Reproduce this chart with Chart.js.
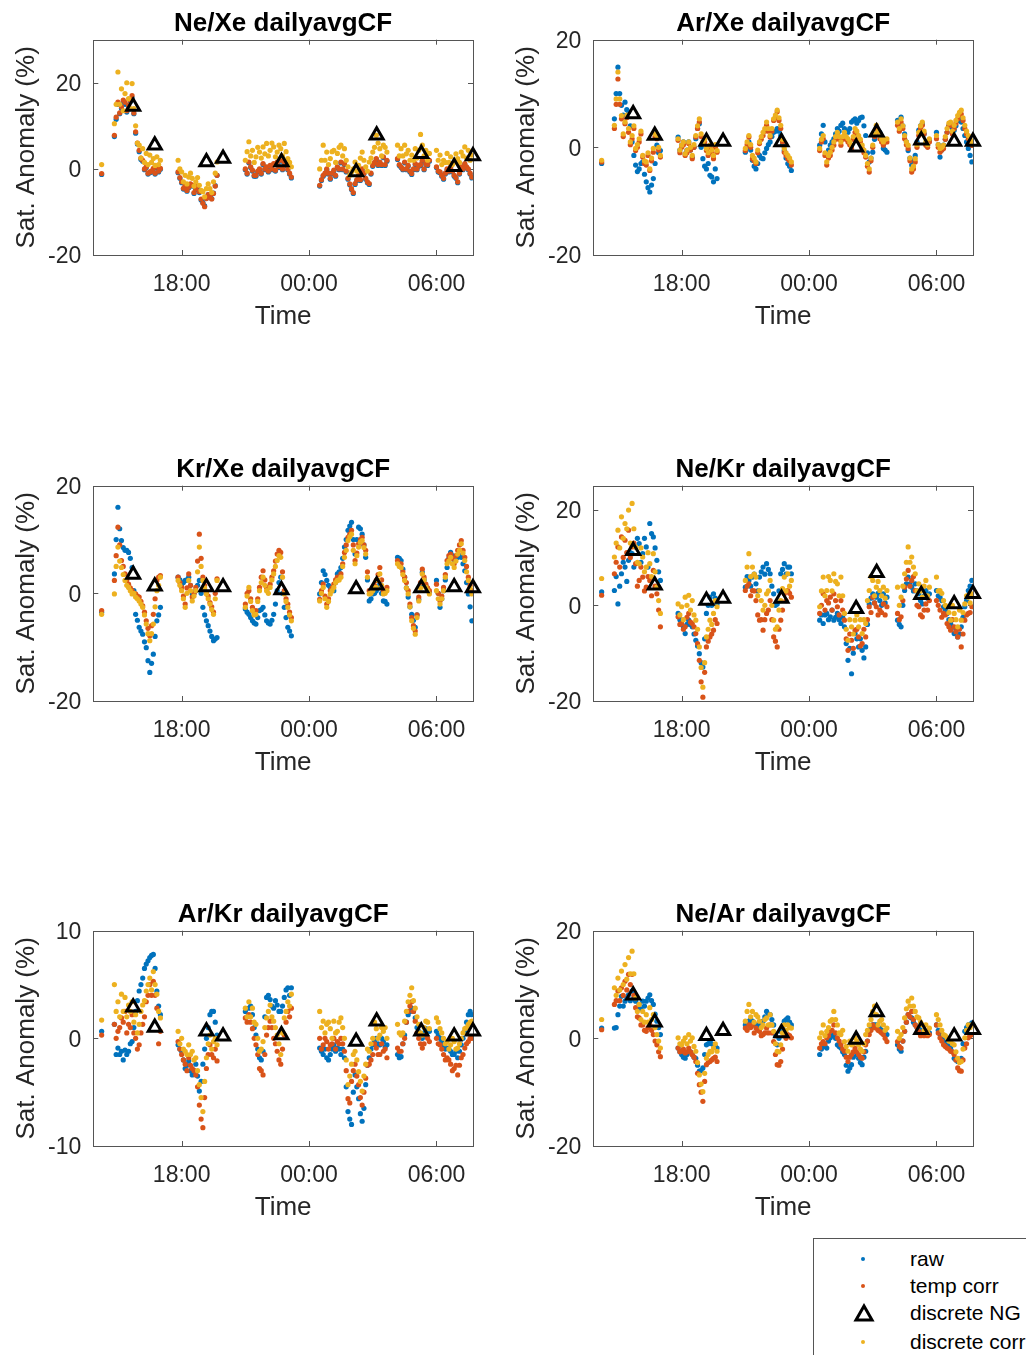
<!DOCTYPE html>
<html>
<head>
<meta charset="utf-8">
<script src="https://cdn.jsdelivr.net/npm/chart.js@4.4.0/dist/chart.umd.min.js"></script>
<style>
  body { margin: 0; background: #fff; width: 1026px; height: 1355px; overflow: hidden; position: relative;
         font-family: 'Liberation Sans', Arial, Helvetica, sans-serif; }
  canvas { position: absolute; }
  #legend { position: absolute; left: 813px; top: 1238px; width: 260px; height: 140px;
            border: 1px solid #555; background: #fff; }
  #legend .row { position: absolute; left: 0; height: 24px; width: 260px; }
  #legend .row span { position: absolute; left: 96px; top: 0; line-height: 24px; font-size: 21px; color: #000; white-space: nowrap; }
  #legend .dot { position: absolute; left: 47px; top: 10px; width: 4px; height: 4px; border-radius: 2px; }
  #legend svg { position: absolute; left: 38px; top: 2px; }
</style>
</head>
<body>
<canvas id="c0" width="500" height="340" style="left:0px;top:0px"></canvas>
<canvas id="c1" width="500" height="340" style="left:500px;top:0px"></canvas>
<canvas id="c2" width="500" height="340" style="left:0px;top:446px"></canvas>
<canvas id="c3" width="500" height="340" style="left:500px;top:446px"></canvas>
<canvas id="c4" width="500" height="340" style="left:0px;top:891px"></canvas>
<canvas id="c5" width="500" height="340" style="left:500px;top:891px"></canvas>

<div id="legend">
  <div class="row" style="top:8px"><div class="dot" style="background:#0072BD"></div><span>raw</span></div>
  <div class="row" style="top:35px"><div class="dot" style="background:#D95319"></div><span>temp corr</span></div>
  <div class="row" style="top:62px">
    <svg width="24" height="20"><polygon points="12,3 20,17 4,17" fill="none" stroke="#000" stroke-width="3"/></svg>
    <span>discrete NG</span></div>
  <div class="row" style="top:91px"><div class="dot" style="background:#EDB120"></div><span>discrete corr</span></div>
</div>

<script>
// sample times of the continuous record (morning times are the next day)
const times = ['14:14',
  '14:50','14:55','15:00','15:05','15:10','15:15','15:20','15:25','15:30','15:35','15:40','15:45','15:50','15:55',
  '16:00','16:05','16:10','16:15','16:20','16:25','16:30','16:35','16:40','16:45','16:50','16:55','17:00',
  '17:50','17:55','18:00','18:05','18:10','18:15','18:20','18:25','18:30','18:35','18:40','18:45',
  '18:50','18:55','19:00','19:05','19:10','19:15','19:20','19:25','19:30','19:35','19:40',
  '21:00','21:05','21:10','21:15','21:20','21:25','21:30','21:35','21:40','21:45','21:50','21:55','22:00','22:05',
  '22:10','22:15','22:20','22:25','22:30','22:35','22:40','22:45','22:50','22:55','23:00','23:05','23:10',
  '00:30','00:35','00:40','00:45','00:50','00:55','01:00','01:05','01:10','01:15','01:20','01:25','01:30','01:35',
  '01:40','01:45','01:50','01:55','02:00','02:05','02:10','02:15','02:20','02:25','02:30','02:35','02:40','02:45',
  '02:50','02:55','03:00','03:05','03:10','03:15','03:20','03:25','03:30','03:35','03:40',
  '04:10','04:15','04:20','04:25','04:30','04:35','04:40','04:45','04:50','04:55','05:00','05:05','05:10','05:15',
  '05:20','05:25','05:30','05:35','05:40',
  '06:00','06:05','06:10','06:15','06:20','06:25','06:30','06:35','06:40','06:45','06:50','06:55','07:00','07:05',
  '07:10','07:15','07:20','07:25','07:30','07:35','07:40'];

// discrete noble gas samples
const ngTimes = ['15:43','16:44','19:10','19:57','22:42','02:13','03:11','05:17','06:50','07:43'];

const xTickLabels = ['18:00', '00:00', '06:00'];

// Ne/Xe
const neXeRaw = [-1.3,
  7.5, 11.5, 15, 12.8, 14, 15.5, 15, 13.2, 14.5, 15.6, 16.5, 12.8, 8.3, 5.8, 4, 2.2, 1.8, -0.2, 0.3, -1.2, -0.9, -0.7, -0.1, -1.2, 0.3, -0.7, -0.1,
  -0.9, -2.2, -3.2, -4.7, -4, -5.2, -4.4, -3.7, -4, -5.7, -4.8, -4.2, -5.5, -7.2, -7.8, -8.6, -6.8, -6, -6.3, -6.9, -5.6, -3.9, -1.5,
  -0.2, -1.2, 1.4, 0.3, -0.5, -1.7, -1.7, -0.7, -0.2, -1.2, 1, -0.2, 0.3, -0.7, 0.6, -0.2, 1, -0.5, 1.4, 0.3, 1.8, -0.2, 1.4, 0.8, -0.2, -1.2, -2.1,
  -4, -2.7, -1.7, -1.2, -0.2, -1.2, -2.4, -1.2, -0.5, -1.7, 0.3, -0.2, 1.4, -0.2, 1, -0.7, -2.4, -3.7, -4.8, -5.7, -3.6, -2.7, -1.7, -2.7, -0.2, -1.2, -2.4, -3.2, -3.6, -1.2, 0.6, 1.3, 2.2, 0.8, 1.4, 0.8, 2.6, 0.8, 1.8,
  2.2, 0.8, 0.3, -0.2, 1.4, -0.2, 0.6, -0.7, -1.3, -0.2, 1, -0.2, 0.6, 0.8, 1.8, -0.2, 1, 0.8, 1.8,
  0.3, -0.7, -0.9, -1.7, -2.4, -1.2, -0.2, -0.7, 0.3, -0.7, -1.7, -2.2, -3.2, -1.2, 0.3, -0.2, 1, 0.3, -0.2, -1.2, -2.1];
const neXeTemp = [-1.1,
  7.8, 12, 15.5, 13, 14.4, 16, 15.5, 13.5, 14.8, 16, 17, 13, 8.6, 6, 4.3, 2.5, 2, 0, 0.5, -1, -0.7, -0.5, 0.1, -1, 0.5, -0.5, 0.1,
  -0.7, -2, -3, -4.5, -3.8, -5, -4.2, -3.5, -3.8, -5.5, -4.6, -4, -5.3, -7, -8, -8.8, -6.9, -6, -6.5, -7, -5.7, -4, -1.5,
  0, -1, 1.6, 0.5, -0.3, -1.5, -1.5, -0.5, 0, -1, 1.2, 0, 0.5, -0.5, 0.8, 0, 1.2, -0.3, 1.6, 0.5, 2, 0, 1.6, 1, 0, -1, -1.9,
  -3.8, -2.5, -1.5, -1, 0, -1, -2.2, -1, -0.3, -1.5, 0.5, 0, 1.6, 0, 1.2, -0.5, -2.2, -3.5, -4.6, -5.5, -3.4, -2.5, -1.5, -2.5, 0, -1, -2.2, -3, -3.4, -1, 0.8, 1.5, 2.4, 1, 1.6, 1, 2.8, 1, 2,
  2.4, 1, 0.5, 0, 1.6, 0, 0.8, -0.5, -1.1, 0, 1.2, 0, 0.8, 1, 2, 0, 1.2, 1, 2,
  0.5, -0.5, -0.7, -1.5, -2.2, -1, 0, -0.5, 0.5, -0.5, -1.5, -2, -3, -1, 0.5, 0, 1.2, 0.5, 0, -1, -1.9];
const neXeCorr = [1.0,
  10.5, 15, 22.5, 15, 18.6, 13.5, 17.5, 20, 16.3, 14, 19.8, 14, 10, 6, 5.5, 2.5, 4.7, 1.5, 3.6, 1, 3.2, 1.5, 2.4, 0.8, 2.8, 1, 2,
  2, 0, -0.7, -3, -1.5, -3.5, -1.9, -1, -2.2, -4, -3, -2, -3.8, -5, -5.3, -6.5, -4.6, -3.5, -4.6, -5.5, -3, -1, 1.6,
  2, 4, 6.3, 3, 4.3, 1.5, 2.8, 5, 3.9, 2.5, 5.1, 3.5, 5.9, 3, 4.3, 6, 5.1, 2.8, 3.9, 5.5, 4.7, 3, 5.9, 4, 2.4, 1.5, 0.5,
  0, 2, 5.5, 2, 3.9, 1, 2.4, 4, 4.3, 1.5, 3.6, 5, 5.5, 3, 4.7, 2, 0.5, -1.5, -0.7, 0, 1.6, -0.5, 0.8, 2.5, 3.9, 2, 0.5, -0.5, 1.6, 2.5, 3.9, 5, 7.8, 6, 4.7, 3, 5.5, 5, 3.9,
  5.5, 3, 4.7, 3, 5.5, 3.5, 4.3, 2, 3.2, 2, 4.7, 2.5, 4.3, 8, 5.5, 3, 4.3, 2, 3.6,
  4.3, 2, 3.2, 1, 2, 1.5, 3.6, 1.5, 2.8, 1, 1.6, 3.5, 2.4, 1.5, 3.9, 3, 5.1, 2.5, 4.3, 2, 3.2];
const neXeNG = [14.5, 5.5, 1.6, 2.4, 1.6, -0.7, 7.8, 3.5, 0.5, 3.0];

// Ar/Xe
const arXeRaw = [-3.0,
  5.3, 10, 14.9, 10, 7.8, 6, 8.4, 7, 6.6, 4, 1, -1.5, -3.3, -4.5, -4, -3, -2.7, -5, -6.4, -7.5, -8.3, -7, -5.8, -3, 0.4, -1, -0.6,
  1.9, -0.5, 0.4, 1, -1.2, -0.5, 1, -0.5, -1.8, 0, 1.6, 3.5, 4.4, 0, -2.1, -3.5, -4, -3, -5.2, -5.5, -6.4, -4, -5.8,
  -0.9, 0, 1, -0.5, -2.4, -3.5, -4, -3, -1.5, -2, -2.1, -1, -0.2, 0.5, 1, 2, 2.8, 3, 3.5, 3, 2.2, 0.5, -0.6, -2, -3, -3.5, -4.3,
  0.4, 2.5, 4.1, 1, -1.5, -0.5, 0.4, 1, 1.6, 2.5, 3.5, 3, 4.1, 4.5, 3.5, 3, 2.8, 3.5, 4.7, 5, 5.3, 4.5, 5, 5.5, 5.6, 4, 2.2, -1, -2.7, -2, -0.9, 1.5, 3.5, 3, 2.8, 1.5, -0.2, -0.5, -0.9,
  5, 4, 5.6, 4, 2.5, 1, -0.6, -2, -3.3, -2.5, -1.5, 1, 3.2, 4, 4.4, 2.5, 0.7, 0.5, 1.3,
  2.8, 0.5, -1.8, -0.5, 0.4, 1.5, 2.8, 4, 4.4, 3.5, 3.2, 4, 5, 5.5, 4.7, 3.5, 2.2, 1, -0.2, -1.5, -2.7];
const arXeTemp = [-2.7,
  3.5, 8, 12.7, 8, 5.3, 2, 4.4, 5.5, 2.8, 0.5, 1.6, 3.5, -0.6, 0, 1, 2.5, -1.8, -3, -3.3, -1.5, -4.3, -2.5, -0.9, 2, 1.6, -0.5, -1.8,
  1.3, -1, 0, 0.5, -1.5, -1, 0.7, -0.5, -2.1, 0, 1.9, 3.5, 4.7, 2, 0.7, 1, -0.6, -1.5, 0, -1, -2.1, 0, -0.9,
  -0.6, 0.5, 1.9, 0, -2.1, -2.5, -3, -1, 0.7, 1.5, 2.2, 3, 4.1, 3, 1.9, 3, 5, 5.5, 6.6, 5, 3.5, 1, -0.9, -1.5, -2.1, -2.5, -3.3,
  -0.6, 1, 1.6, -1.5, -3.3, -2, -1.5, -0.5, 0.4, 1.5, 2.2, 1.5, 0.4, 1.5, 2.2, 1.5, 1, 0.5, -0.2, 1.5, 2.8, 2.5, 1.9, 1, -0.2, -1, -1.8, -3.5, -4.6, -2.5, 0, 2, 3.5, 2.5, 1.6, 1, 0.4, 1, 1,
  4.1, 3, 4.7, 3.5, 1.6, 0.5, -0.2, -2.5, -4.6, -4, -2.7, 0, 2.2, 3.5, 4.1, 2.5, 0.4, 0, 1,
  1.6, 0, -0.9, -0.5, -0.2, 1.5, 2.8, 4, 4.1, 2.5, 3.5, 4.5, 5.3, 6, 6.2, 5, 3.5, 2.5, 1.6, 1, 0.4];
const arXeCorr = [-2.4,
  4.1, 9, 14, 9, 5.9, 2.5, 4.7, 6, 3.5, 1, 2.2, 4, -0.2, 0.5, 1.6, 3, -1.5, -2.5, -2.7, -1, -4, -2, -0.2, 2.5, 2.2, 0, -1.5,
  1.6, -0.5, 0.4, 1, -1.2, -0.5, 1, 0, -1.5, 0.5, 2.2, 4, 5.3, 2.5, 1, 1.5, -0.2, -1, 0.4, -0.5, -1.5, 0.5, -0.6,
  -0.2, 1, 2.2, 0.5, -1.5, -2, -2.7, -0.5, 1, 2, 2.8, 3.5, 4.7, 3.5, 2.2, 3.5, 5.3, 6, 6.9, 5.5, 4.1, 1.5, -0.2, -1, -1.5, -2, -2.7,
  -0.2, 1.5, 2.2, -1, -2.7, -1.5, -0.9, 0, 1, 2, 2.8, 2, 1, 2, 2.8, 2, 1.6, 1, 0.4, 2, 3.5, 3, 2.2, 1.5, 0.4, -0.5, -1.5, -3, -4, -2, 0.4, 2.5, 4.1, 3, 2.2, 1.5, 1, 1.5, 1.6,
  4.7, 3.5, 5.3, 4, 2.2, 1, 0.4, -2, -4, -3.5, -2.1, 0.5, 2.8, 4, 4.7, 3, 1, 0.5, 1.6,
  2.2, 0.5, -0.2, 0, 0.4, 2, 3.5, 4.5, 4.7, 3, 4.1, 5, 5.9, 6.5, 6.9, 5.5, 4.1, 3, 2.2, 1.5, 1];
const arXeNG = [6.2, 2.2, 1.1, 1.1, 1.0, 0.0, 2.8, 1.3, 1.1, 1.1];

// Kr/Xe
const krXeRaw = [-3.5,
  3.6, 10, 16, 12, 9.8, 8.5, 8, 8, 7.6, 6.5, 4.8, 0.5, -3.9, -5, -6.3, -7, -7.6, -9, -10.1, -12.5, -14.7, -13, -11.3, -8, -5.1, -4, -2.6,
  3, 2.5, 1.7, 2, 2.4, 2.5, 3, 1.5, -0.1, 0, 0.5, 1.5, 2.4, 0, -2.6, -4, -5.1, -6, -7, -8, -8.8, -8.5, -8.2,
  -2.9, -3.5, -3.9, -4.5, -5.1, -5.5, -5.7, -4.5, -3.2, -3, -2.6, -4, -5.1, -5.5, -5.7, -5, -3.9, -2, 0.5, 2, 3, 0, -2.6, -4.5, -6.3, -7, -7.9,
  -0.1, 2, 4.2, 3.5, 2.4, 1.5, 1.1, 1, 0.5, 2, 3.6, 4, 4.8, 6.5, 8.6, 10, 11.7, 12.5, 13.2, 10, 7.3, 10, 12.3, 12, 11, 9, 6.7, 2.5, -1.4, -1, -0.1, 0, 0.5, 1, 1.7, 0, -1.4, -1.5, -2,
  6.7, 6.5, 6.1, 4.5, 3, 1, -0.7, -2.5, -3.9, -5, -6.3, -4, -1.1, 1.5, 3.9, 2.5, 1.4, 0.8, 0.2,
  2.4, 0, -2.6, -1, 0.5, 2.5, 4.8, 6.5, 7.6, 7, 6.1, 6.5, 6.7, 7, 6.7, 5.5, 4.2, 2, -0.1, -2.5, -5.1];
const krXeTemp = [-3.2,
  2.4, 7, 12.3, 9, 6.1, 5, 3.6, 2.5, 1.7, 1, 0.5, 0, -0.1, -0.5, -0.7, -1.5, -2.3, -3.5, -5.1, -6.5, -7.9, -6, -3.9, -1, 2.4, 3, 3.3,
  3, 2, 1.1, -0.5, -2, 1, 3.6, 1.5, -0.7, 0, 1.1, 6, 11, 6.5, 3, 1.5, 0.2, -0.5, -1.7, -2.5, -3.5, 0, 2.7,
  -2, 0, 0.5, -1, -2.6, -3.5, -3.2, -1, 1.1, 3, 4.2, 2.5, 1.1, 1, 1.7, 3, 4.2, 6, 7.3, 8, 7.6, 4, 0.5, -1, -2, -3.5, -4.5,
  -1.1, 0.5, 1.7, -0.5, -2, -1, 0.5, 1, 1.7, 2.5, 3, 3, 3.6, 5.5, 7.6, 9, 10.4, 11, 11.7, 9, 6.1, 7.5, 9.2, 10, 10.4, 9, 8, 4, 0.5, 0.5, 1.1, 1.5, 2.4, 3.5, 4.8, 2.5, 0.5, 0.5, 1.1,
  6.1, 5.5, 5.5, 4, 3, 2, 0.5, -2, -4.5, -6, -7, -4, -0.7, 2, 4.5, 3, 1.7, 1, 0.5,
  1.7, 0, -1.4, -0.5, 1.1, 3.5, 6.1, 7, 7.3, 6.5, 5.5, 7, 8, 9, 9.8, 8, 6.7, 5, 3, 1.5, 0.5];
const krXeCorr = [-3.9,
  -0.1, 5, 8.6, 6, 4.8, 3.5, 2.4, 1.5, 1.1, 0.5, -0.1, 0, -0.7, -1, -1.4, -2, -2.6, -4, -5.7, -7.5, -8.8, -7.5, -5.7, -2.5, 0.5, 1.5, 3,
  2.4, 1.5, 0.5, -1, -2.6, 0, 2.4, 0.5, -1.4, -0.5, 0.5, 4, 8.6, 5, 2.4, 1, -0.1, -1, -2, -3, -3.9, -1, 2.4,
  -2.6, -0.5, 1.1, -1.5, -3.2, -4, -3.9, -1.5, 0.5, 2, 3, 1.5, 0.5, 0, 1.1, 2.5, 3.6, 5, 6.1, 7, 6.7, 3, -0.1, -1.5, -2.6, -4, -5.1,
  -1.4, 0, 1.1, -1, -2.6, -1.5, -0.1, 0.5, 1.1, 2, 2.4, 2.5, 3, 5, 6.7, 8, 9.8, 10.5, 11, 8, 5.5, 7, 8.6, 9.5, 9.8, 8.5, 7.3, 3, -0.1, 0, 0.5, 1, 1.1, 2.5, 3.6, 1.5, -0.1, 0, 0.5,
  5.5, 5, 4.8, 3.5, 2.4, 1, -0.1, -2.5, -5.1, -6.5, -7.6, -4.5, -1.4, 1, 3.6, 2.5, 1.1, 0.5, -0.1,
  0.5, -1, -2, -1, 0.5, 3, 5.5, 6, 6.7, 5.5, 4.8, 6, 7.3, 8, 9.2, 7.5, 6.1, 4, 2.4, 1, -0.1];
const krXeNG = [3.5, 1.3, 1.2, 1.2, 0.6, 0.8, 1.5, 1.0, 1.2, 1.0];

// Ne/Kr
const neKrRaw = [2.8,
  3.1, 6, 0.3, 4, 6.6, 9, 8, 5, 9.4, 11, 10.8, 8, 12.2, 14, 12.9, 9, 10.8, 14, 12.2, 8, 17.1, 15, 14.3, 12, 9.4, 7, 5.2,
  -1.7, -3, -3.1, -4.5, -5.9, -4, -3.1, -4, -4.5, -6, -7.3, -8.5, -10.1, -12, -12.9, -7, -1.7, 0, 1.7, 0, 2.4, 1.5, 0.3,
  3.8, 6, 5.2, 4, 5.9, 6.5, 4.5, 3, 5.9, 7, 8, 6.5, 8.7, 7.5, 6.6, 4, 2.4, 0, 0.3, 3, 6.6, 7.5, 8.7, 6.5, 8, 8, 6.6,
  -3.1, -2, -3.8, -2, -1.7, -3, -2.4, -1, -3.1, -2.5, -1.7, -3, -3.8, -2.5, -4.5, -8, -11.5, -9, -14.3, -10, -5.9, -7, -8.7, -7, -9.4, -11, -8.7, -4, 0.3, 1.5, 2.4, 0.5, 1.7, 2.5, 1, 0, 2.4, 0.5, 1.7,
  -3.1, -4, -4.5, 0, 3.1, 4.5, 5.9, 4.5, 3.8, 3, 4.5, 3, 2.4, 1, 0.3, 2, 3.1, 1.5, 2.4,
  3.1, 2, 1.7, 1, -0.3, -1, -1.7, -3, -3.8, -4.5, -5.9, -5, -6.6, -6, -4.5, -2.5, -0.3, 1, 3.1, 4, 5.2];
const neKrTemp = [2.1,
  6.6, 9, 12.2, 8, 14.3, 10, 13.6, 11, 15.7, 10, 12.2, 13, 8.7, 4, 5.2, 8, 5.9, 3, 3.8, 6, 5.2, 2, 7.3, 4, 2.4, -1, -4.5,
  -2.4, -4, -3.8, -5, -4.5, -2.5, -1.7, -3.5, -3.8, -4.5, -5.9, -8, -11.5, -16, -19.2, -14, -8.7, -7.5, -6.6, -6, -5.2, -3, -3.8,
  3.1, 4, 4.5, 2, 3.1, 3, 1, -2, -3.1, -3, -5.2, -3, -1.7, -1, 1, -3, -6.6, -7.5, -8.7, -5, -3.1, -1, 2.4, 1, 3.1, 2.5, 1.7,
  -1.7, 0, 2.4, -1, 1, 0.5, 1.7, -1, 2.4, 1, -0.3, -2, 1, -1, -3.1, -7, -9.4, -6, -7.3, -9, -5.2, -5, -6.6, -8.5, -8, -5, -6.6, -3, -0.3, -1.5, 1.7, 0.5, -0.3, -2, -1, -1.5, 0.3, -2, -0.3,
  -1.7, -3, -2.4, 1, 3.8, 5.5, 7.3, 4, 5.2, 6, 3.1, 0, -0.3, -2, -2.4, -1, 0.3, -1, 1,
  1, 0, -1, -2.5, -1.7, -2, -3.8, -4.5, -5.2, -3, -4.5, -5.5, -6.6, -5, -8.7, -6, -3.1, -2, -1.7, -1.5, -0.3];
const neKrCorr = [5.6,
  10.1, 13, 15.7, 12, 18.5, 14, 17.1, 16, 19.9, 13, 21.3, 16, 12.2, 9, 8.7, 12, 10.1, 7, 8, 11, 8.7, 6, 10.8, 7, 3.8, 1, -1.7,
  0.3, -2, -0.3, -3, 1.7, 0, 2.1, -1, 1, -2, -3.1, -5, -8.7, -13, -17.1, -12, -6.6, -5, -3.1, -4, -1.7, 1, -0.3,
  5.2, 8, 10.8, 6, 8, 6.5, 5.9, 2, 3.1, 1, -1, 0, 2.4, 3, 5.2, 0, -3.1, -5, -4.5, -1, 1, 3.5, 5.9, 3, 6.6, 4, 5.2,
  -0.3, 3, 5.9, 2, 3.1, 6, 5.2, 3, 6.6, 5, 4.5, 2, 5.9, 2, -1.7, -5, -7.3, -3, -4.5, -6, -3.1, -2, -4.5, -3, -5.9, -3, -3.8, 1, 3.1, 6, 5.2, 2, 3.8, 5, 3.1, 2, 3.8, 1.5, 3.1,
  3.8, 0, 1.7, 4, 6.6, 9, 12.2, 9, 10.1, 8, 6.6, 3, 4.5, 3, 1.7, 4, 5.2, 2, 3.8,
  5.9, 3, 3.1, 2.5, 1, 0, -0.3, -1.5, -3.1, 0, -1.7, -3, -4.5, -1, -3.1, -1.5, 0.3, 2, 1.7, 0.5, 2.4];
const neKrNG = [11.4, 4.2, 1.0, 1.4, 1.4, -0.7, 6.8, 2.2, 0.3, 2.4];

// Ar/Kr
const arKrRaw = [0.65,
  1.3, -1.5, -0.9, -1.5, -1.2, -2, -1.1, -1.5, -1.2, -0.5, -0.3, 1, 2.5, 3.5, 4.4, 5, 5.6, 6.5, 6.9, 7.2, 7.5, 7.7, 7.8, 6.5, 4.4, 3, 2.2,
  -0.6, -1, -1.2, -2, -2.8, -2.5, -2.1, -3, -3.4, -3, -2.4, -3.5, -4.9, -4, -2.4, -1, 0, 1, 2.2, 2.5, 2.5, 1.5, 0.3,
  2.5, 2, 2.8, 3, 2.2, 1, 0.3, -1, -1.8, -2, -1.2, 2, 3.8, 4, 3.6, 3, 2.8, 3.5, 3.1, 2.5, 2.5, 3, 3.8, 4.5, 4.7, 4, 4.7,
  -0.9, -1.2, -1.5, -1, -1.8, -2, -1.5, -1, -0.6, -1.2, -0.9, -1, -1.5, -1, -1.8, -4.5, -6.8, -7.5, -8, -5, -3.4, -4.5, -5.6, -7, -7.7, -6.5, -4.3, -2.5, -1.8, -1, -0.6, -0.3, 0, -0.5, -0.6, 0, -0.3, -0.8, -0.6,
  -1.5, -1.8, -1.7, -0.5, 0.3, 1.5, 2.2, 2.5, 2.8, 2.5, 1.9, 1, 0.65, 0.3, 0, 0.5, 0.9, 0.8, 0.65,
  0.65, 0.3, 0, -0.3, -0.6, -1, -0.9, -1, -1.2, -1.5, -1.5, -1.2, -1.8, -1.2, -0.6, 0, 0.65, 1.5, 2.2, 2.5, 2.2];
const arKrTemp = [0.3,
  1.3, 0, 0.65, 1, 1.9, 1.5, 2.5, 0.5, 1.3, 1, 2.2, 0.5, 0, -1, -0.6, 0.5, 1.3, 2, 3.4, 4, 5, 4, 5.3, 4, 2.8, -0.5, 0.65,
  -0.3, -1, -1.5, -2, -2.4, -3, -1.8, -2.5, -2.8, -3, -3.4, -4.5, -6.2, -7.5, -8.3, -5.5, -2.8, -1.5, -0.6, -1.5, -1.8, -1, -2.1,
  1.9, 1.5, 2.2, 1.5, 0.9, 0, -0.6, -1.5, -2.8, -3, -3.4, -1.5, 0.3, 1, 1.6, 1, 0, -0.5, -1.2, -2, -2.4, -1, 0.3, 1.5, 2.5, 2, 2.8,
  0, -1, -0.6, 0, -0.3, -1, -0.6, -0.5, 0, -1, -0.3, -0.5, 0, -0.5, -1.2, -3, -5.6, -6, -4, -3, -2.4, -3.5, -4.3, -5.5, -6.2, -5, -3.7, -2.5, -2.4, -2, -1.5, -0.5, -0.9, -1.5, -1.5, -0.5, -1.2, -1, -1.8,
  -0.9, -1.2, -1.2, -0.5, 0, 1.5, 2.5, 3, 3.4, 2.5, 1.6, 0.5, 0, -0.5, -0.9, -0.5, 0.3, 0, -0.3,
  0, -0.5, -0.6, -1, -1.5, -2, -1.8, -2, -2.4, -3, -2.8, -2.5, -3.4, -2.5, -1.8, -1.5, -0.9, -0.5, -0.3, 0, 0];
const arKrCorr = [1.7,
  5, 2.5, 3.4, 2, 4.1, 2.5, 3.8, 2, 3.1, 2.5, 3.4, 1.5, 2.2, 0.5, 1.3, 2.5, 3.1, 3.5, 4.4, 5, 5.6, 4.5, 6.2, 5, 4.1, 2.5, 1.9,
  0.65, -0.5, 0, -1, -1.2, -1.5, -0.6, -1.5, -1.2, -2, -1.8, -3, -4.3, -5.5, -6.8, -4, -1.8, -0.5, 0.3, -1, -0.3, 0, -0.6,
  2.8, 2, 3.4, 2, 2.8, 1.5, 1.3, 0, -1.2, -1, -0.3, 1, 1.9, 2.5, 3.1, 2, 1.6, 1, 0.3, -0.5, -1.5, 0.5, 1.9, 2.5, 3.4, 3, 4.1,
  2.5, 1, 1.6, 0.5, 1.3, 1.5, 0.9, 0, 1.6, 0.5, 0.65, 1.5, 1.9, 1, 0, -2, -4.3, -3.5, -2.4, -1.5, -1.2, -2, -3.1, -4, -4.9, -3.5, -2.4, -1, -1.2, -0.5, 0, 1.5, 0.9, 0, 0.3, 1, 0.65, 1, 0,
  1.3, 0.5, 0.3, 0.5, 1.6, 2.5, 3.4, 4, 4.7, 3.5, 2.8, 2, 1.3, 0.5, 0.3, 1, 1.6, 1.5, 0.9,
  1.9, 1.5, 0.9, 0.5, 0, -0.5, -0.3, -1, -0.6, 0, -0.3, -1, -0.9, -0.5, 0, 0.5, 0.9, 1, 1.3, 1.5, 1.6];
const arKrNG = [2.9, 1.0, 0.65, 0.2, 0.3, -0.3, 1.6, 0.65, 0.2, 0.65];

// Ne/Ar
const neArRaw = [1.9,
  1.9, 2, 4.4, 6, 7.8, 6, 6.9, 7.5, 8.1, 7, 8.8, 7.5, 6.9, 5.5, 6.3, 5.5, 6.9, 6, 6.9, 7.5, 8.1, 7, 6.3, 4.5, 3.2, 2, 0.7,
  -1.8, -2.5, -3, -3.5, -3.7, -3, -2.4, -2.5, -3, -3.5, -3.7, -5, -6.1, -6, -5.5, -3, -1.2, -1, -0.6, -1, -1.2, -1.5, -1.8,
  2.5, 2.5, 3.2, 3.5, 3.2, 2.5, 2.5, 2.5, 1.9, 2.5, 3.2, 4, 5, 4.5, 4.4, 3.5, 2.5, 0.5, -1.2, 0, 1.3, 2, 3.2, 3.5, 3.8, 3, 2.5,
  -3, -2, -1.2, -1.5, -1.8, -0.5, 0.1, 0.5, 0.7, 0, -1.2, -1.5, -1.8, -2.5, -3, -5, -6.1, -5.5, -4.9, -3.5, -2.4, -3, -3.7, -4.5, -4.9, -3.5, -2.4, -0.5, 1.3, 2, 2.5, 2.5, 2.5, 2, 1.9, 1.5, 1.3, 1, 0.7,
  -1.2, -2, -2.4, -0.5, 1.3, 3, 4.4, 4, 3.8, 3, 2.5, 2, 1.9, 1.5, 1.3, 1, 1.3, 1, 1,
  2.5, 1.5, 0.7, 0.5, 0.1, -0.5, -1.2, -1.5, -1.8, -2.5, -3.7, -4, -4.3, -4, -3.7, -1, 1.3, 2, 2.5, 2.5, 2.9];
const neArTemp = [1.6,
  6.3, 7, 8.8, 7, 9.4, 8, 10.6, 9, 11.9, 10, 11.9, 8, 5.7, 4, 3.8, 2.5, 2.5, 1.5, 1.3, 2, 2.5, 1.5, 0.7, -0.5, -1.2, -2.5, -3.4,
  -1.8, -2.5, -2.4, -2, -2.7, -2.5, -1.8, -2.5, -3, -3.5, -4.3, -6.5, -8.6, -10, -11.7, -8, -4.9, -4.5, -4.3, -4, -3.7, -3.5, -4.3,
  1.9, 1.5, 2.5, 2, 2.5, 1, 1.9, 1.5, 1.3, 0.5, 0.7, 1, 1.9, 1, 2.5, 1, -0.6, -3, -4.9, -5, -4.3, -2, 0.7, 0, 0.7, 0.5, 0.1,
  -1.8, -1, -0.6, -1, 0.1, 0.5, 1.3, 1.5, 2.5, 1, 0.1, -0.5, -1.2, -2, -2.4, -3.5, -4.3, -3.5, -3, -2.5, -1.8, -2.5, -3, -3.5, -3.7, -2.5, -1.2, -0.5, 0.7, 1.5, 2.5, 2, 1.9, 1.5, 1.3, 1, 0.7, 0, -0.6,
  -0.6, -1.5, -1.8, -0.5, 1.3, 3, 4.4, 4, 5, 3.5, 2.5, 2, 1.3, 0.5, 0.7, 0.5, 1.3, 0.5, 0.7,
  2.5, 1, 0.1, -0.5, -1.2, -1.5, -1.8, -2, -2.4, -2.5, -3, -4, -5.5, -6, -6.1, -4, -1.8, -1, 0.1, 0.5, 0.7];
const neArCorr = [3.5,
  9.4, 8, 11.2, 9, 12.5, 10, 13.7, 11, 15, 12, 16.2, 12, 7.5, 5, 6.3, 3.5, 5, 3, 4.4, 3, 5.7, 3.5, 4.4, 2, 0.7, -0.5, -1.8,
  0.1, -1, -1.2, -0.5, 0.1, -1, 0.7, -0.5, 0.1, -1.5, -2.4, -4.5, -6.8, -8.5, -9.9, -6.5, -3.7, -3, -2.4, -2.5, -1.8, -1, -2.4,
  3.2, 5, 6.3, 4, 5, 3, 4.4, 4, 3.2, 2, 2.5, 3.5, 3.8, 2.5, 4.4, 2.5, 1.3, -1, -2.4, -2.5, -1.2, 1, 2.5, 1.5, 2.5, 2, 1.9,
  0.1, 1, 2.5, 0.5, 1.3, 2, 3.2, 3.5, 5, 3.5, 2.5, 1, 0.7, 1.5, -0.6, -1.5, -2.4, -0.5, -1.2, -1, 0.1, -0.5, -1.2, -2, -2.4, -1, 0.7, 1.5, 2.5, 3.5, 5, 6, 4.4, 2.5, 3.2, 3.5, 2.5, 1.5, 1.9,
  1.3, 0, 0.7, 2, 3.8, 5.5, 6.9, 6, 7.5, 6, 5, 4, 3.8, 3, 2.5, 1.5, 2.5, 1, 1.9,
  4.4, 3.5, 2.5, 1.5, 0.7, 0.5, 0.1, -0.5, -0.6, -1, -1.2, -2.5, -3.7, -4.5, -4.3, -2, 0.1, 1.5, 2.5, 2, 2.5];
const neArNG = [8.0, 3.0, 0.5, 1.4, 1.0, -0.2, 4.9, 1.6, 0.4, 1.6];

const panels = [
  { title: 'Ne/Xe dailyavgCF', raw: neXeRaw, temp: neXeTemp, corr: neXeCorr, ng: neXeNG, yMin: -20, yMax: 30, yTicks: [-20, 0, 20] },
  { title: 'Ar/Xe dailyavgCF', raw: arXeRaw, temp: arXeTemp, corr: arXeCorr, ng: arXeNG, yMin: -20, yMax: 20, yTicks: [-20, 0, 20] },
  { title: 'Kr/Xe dailyavgCF', raw: krXeRaw, temp: krXeTemp, corr: krXeCorr, ng: krXeNG, yMin: -20, yMax: 20, yTicks: [-20, 0, 20] },
  { title: 'Ne/Kr dailyavgCF', raw: neKrRaw, temp: neKrTemp, corr: neKrCorr, ng: neKrNG, yMin: -20, yMax: 25, yTicks: [-20, 0, 20] },
  { title: 'Ar/Kr dailyavgCF', raw: arKrRaw, temp: arKrTemp, corr: arKrCorr, ng: arKrNG, yMin: -10, yMax: 10, yTicks: [-10, 0, 10] },
  { title: 'Ne/Ar dailyavgCF', raw: neArRaw, temp: neArTemp, corr: neArCorr, ng: neArNG, yMin: -20, yMax: 20, yTicks: [-20, 0, 20] }
];

// 'HH:MM' -> hours, morning values belong to the next day
function toHours(t) {
  const [h, m] = t.split(':').map(Number);
  const v = h + m / 60;
  return v < 12 ? v + 24 : v;
}

function points(tt, vals) {
  return tt.map((t, i) => ({ x: toHours(t), y: vals[i] }));
}

// MATLAB style box with inward ticks on all four sides
const boxPlugin = {
  id: 'matlabBox',
  beforeDatasetsDraw(chart) {
    const { ctx, chartArea: a, scales: { x, y } } = chart;
    const len = 5;
    ctx.save();
    ctx.strokeStyle = '#555';
    ctx.lineWidth = 1;
    ctx.strokeRect(Math.round(a.left) + 0.5, Math.round(a.top) + 0.5,
                   Math.round(a.right - a.left), Math.round(a.bottom - a.top));
    ctx.beginPath();
    x.ticks.forEach(tk => {
      const px = Math.round(x.getPixelForValue(tk.value)) + 0.5;
      ctx.moveTo(px, a.bottom); ctx.lineTo(px, a.bottom - len);
      ctx.moveTo(px, a.top); ctx.lineTo(px, a.top + len);
    });
    y.ticks.forEach(tk => {
      const py = Math.round(y.getPixelForValue(tk.value)) + 0.5;
      ctx.moveTo(a.left, py); ctx.lineTo(a.left + len, py);
      ctx.moveTo(a.right, py); ctx.lineTo(a.right - len, py);
    });
    ctx.stroke();
    ctx.restore();
  }
};

Chart.defaults.font.family = "'Liberation Sans', Arial, Helvetica, sans-serif";

function drawPanel(id, p) {
  const xTicks = xTickLabels.map(toHours);
  new Chart(document.getElementById(id), {
    type: 'scatter',
    data: {
      datasets: [
        { label: 'discrete NG', data: points(ngTimes, p.ng), pointStyle: 'triangle', pointRadius: 7.5,
          borderColor: '#000', borderWidth: 3, backgroundColor: 'rgba(0,0,0,0)', clip: false, order: 0 },
        { label: 'discrete corr', data: points(times, p.corr), pointRadius: 2.6, borderWidth: 0,
          backgroundColor: '#EDB120', order: 1 },
        { label: 'temp corr', data: points(times, p.temp), pointRadius: 2.6, borderWidth: 0,
          backgroundColor: '#D95319', order: 2 },
        { label: 'raw', data: points(times, p.raw), pointRadius: 2.6, borderWidth: 0,
          backgroundColor: '#0072BD', order: 3 }
      ]
    },
    options: {
      responsive: false,
      animation: false,
      events: [],
      layout: { padding: { left: 0, right: 27, top: 0, bottom: 0 } },
      plugins: {
        legend: { display: false },
        tooltip: { enabled: false },
        title: {
          display: true,
          fullSize: false,
          text: p.title,
          color: '#000',
          font: { size: 26, weight: 'bold' },
          padding: { top: 8.5, bottom: 0 }
        }
      },
      scales: {
        x: {
          type: 'linear',
          min: 13.84,
          max: 31.72,
          afterBuildTicks: s => { s.ticks = xTicks.map(v => ({ value: v })); },
          afterFit: s => { s.height = 85; },
          grid: { display: false, drawTicks: false },
          border: { display: false },
          ticks: { padding: 15.5, color: '#262626', font: { size: 23 }, autoSkip: false, maxRotation: 0,
                   callback: (v, i) => xTickLabels[i] },
          title: { display: true, text: 'Time', color: '#262626', font: { size: 26 }, padding: { top: 0, bottom: 7.5 } }
        },
        y: {
          min: p.yMin,
          max: p.yMax,
          afterBuildTicks: s => { s.ticks = p.yTicks.map(v => ({ value: v })); },
          afterFit: s => { s.width = 93.3; },
          grid: { display: false, drawTicks: false },
          border: { display: false },
          ticks: { padding: 12, labelOffset: 2, color: '#262626', font: { size: 23 }, callback: v => String(v) },
          title: { display: true, text: 'Sat. Anomaly (%)', color: '#262626', font: { size: 26 }, padding: { top: 11.4, bottom: 0 } }
        }
      }
    },
    plugins: [boxPlugin]
  });
}

panels.forEach((p, i) => drawPanel('c' + i, p));

// sanity check: every series must match the time list
const bad = [];
panels.forEach(p => ['raw', 'temp', 'corr'].forEach(k => {
  if (p[k].length !== times.length) bad.push(p.title + ' ' + k + ' ' + p[k].length + '/' + times.length);
}));
if (bad.length) throw new Error('length mismatch: ' + bad.join('; '));
</script>
</body>
</html>
